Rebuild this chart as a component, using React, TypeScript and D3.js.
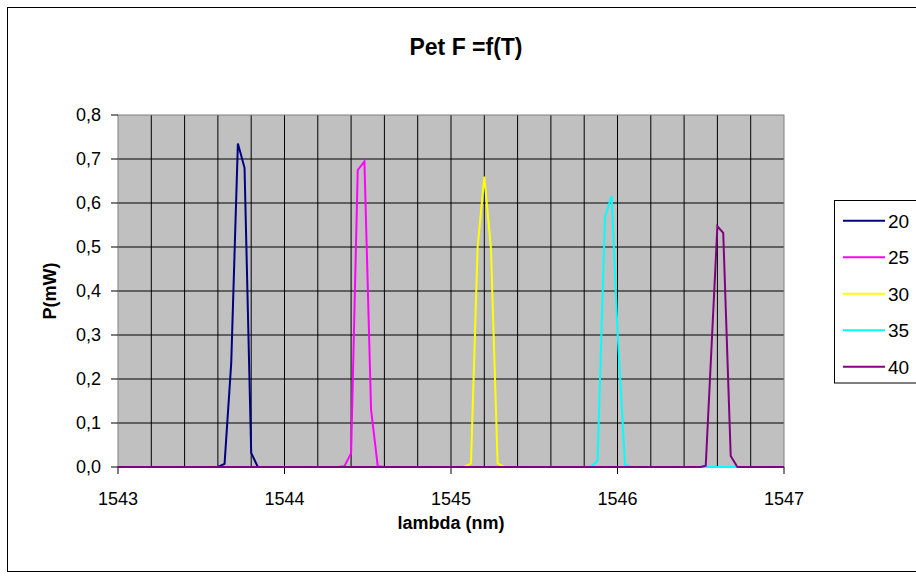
import React from "react";
import * as d3 from "d3";

const W = 916;
const H = 579;

const title = "Pet F =f(T)";
const xTitle = "lambda (nm)";
const yTitle = "P(mW)";

const xTicks = [1543, 1544, 1545, 1546, 1547];
const yTicks = [0, 0.1, 0.2, 0.3, 0.4, 0.5, 0.6, 0.7, 0.8];
const xGrid = [1543.2, 1543.4, 1543.6, 1543.8, 1544, 1544.2, 1544.4, 1544.6, 1544.8, 1545, 1545.2, 1545.4, 1545.6, 1545.8, 1546, 1546.2, 1546.4, 1546.6, 1546.8];

const seriesNames = ["20", "25", "30", "35", "40"];
const seriesColors = ["#000080", "#FF00FF", "#FFFF00", "#00FFFF", "#800080"];

const lambda20 = [1543.0, 1543.6, 1543.64, 1543.68, 1543.72, 1543.76, 1543.8, 1543.84, 1547.0];
const p20 = [0, 0, 0.007, 0.236, 0.735, 0.68, 0.032, 0, 0];

const lambda25 = [1543.0, 1544.32, 1544.36, 1544.4, 1544.44, 1544.48, 1544.52, 1544.56, 1544.6, 1547.0];
const p25 = [0, 0, 0.002, 0.031, 0.675, 0.694, 0.13, 0.002, 0, 0];

const lambda30 = [1543.0, 1545.08, 1545.12, 1545.16, 1545.2, 1545.24, 1545.28, 1545.32, 1547.0];
const p30 = [0, 0, 0.008, 0.5, 0.66, 0.497, 0.008, 0, 0];

const lambda35 = [1543.0, 1545.84, 1545.88, 1545.925, 1545.935, 1545.965, 1546.0, 1546.045, 1546.08, 1547.0];
const p35 = [0, 0, 0.014, 0.567, 0.58, 0.616, 0.31, 0.005, 0, 0];

const lambda40 = [1543.0, 1546.5, 1546.53, 1546.565, 1546.6, 1546.635, 1546.68, 1546.72, 1547.0];
const p40 = [0, 0, 0.003, 0.275, 0.547, 0.532, 0.025, 0, 0];

const seriesX = [lambda20, lambda25, lambda30, lambda35, lambda40];
const seriesY = [p20, p25, p30, p35, p40];

const plot = { left: 118, right: 784, top: 115, bottom: 467 };

export default function App() {
  const x = d3.scaleLinear().domain([1543, 1547]).range([plot.left, plot.right]);
  const y = d3.scaleLinear().domain([0, 0.8]).range([plot.bottom, plot.top]);
  const line = d3
    .line<[number, number]>()
    .x((d) => x(d[0]))
    .y((d) => y(d[1]));
  const fmt = (v: number) => v.toFixed(1).replace(".", ",");
  const font = "Arial, 'Liberation Sans', sans-serif";

  const legendTop = 200;
  const legendStep = 36.5;

  return (
    <svg
      width={W}
      height={H}
      style={{ position: "absolute", left: 0, top: 0, background: "#fff" }}
      fontFamily={font}
    >
      <rect x={0} y={0} width={W} height={H} fill="#fff" />
      <rect x={7.5} y={7.5} width={940} height={564} fill="none" stroke="#000" strokeWidth={1} />
      <text x={466} y={47} dy="0.36em" textAnchor="middle" fontSize={23} fontWeight="bold">
        {title}
      </text>

      <rect
        x={plot.left}
        y={plot.top}
        width={plot.right - plot.left}
        height={plot.bottom - plot.top}
        fill="#C0C0C0"
      />
      {xGrid.map((g) => (
        <line key={"xg" + g} x1={x(g)} x2={x(g)} y1={plot.top} y2={plot.bottom} stroke="#000" strokeWidth={1} />
      ))}
      {yTicks.slice(1, -1).map((g) => (
        <line key={"yg" + g} x1={plot.left} x2={plot.right} y1={y(g)} y2={y(g)} stroke="#000" strokeWidth={1} />
      ))}
      <rect
        x={plot.left}
        y={plot.top}
        width={plot.right - plot.left}
        height={plot.bottom - plot.top}
        fill="none"
        stroke="#808080"
        strokeWidth={1}
      />

      {yTicks.map((t) => (
        <g key={"yt" + t}>
          <line x1={plot.left - 7} x2={plot.left} y1={y(t)} y2={y(t)} stroke="#000" strokeWidth={1} />
          <text x={101} y={y(t)} dy="0.36em" textAnchor="end" fontSize={18}>
            {fmt(t)}
          </text>
        </g>
      ))}
      {xTicks.map((t) => (
        <g key={"xt" + t}>
          <line x1={x(t)} x2={x(t)} y1={plot.bottom} y2={plot.bottom + 7} stroke="#000" strokeWidth={1} />
          <text x={x(t)} y={499} dy="0.36em" textAnchor="middle" fontSize={18}>
            {t}
          </text>
        </g>
      ))}

      {seriesX.map((xs, i) => {
        const pts = xs.map((v, j) => [v, seriesY[i][j]] as [number, number]);
        return (
          <path
            key={"s" + i}
            d={line(pts) || ""}
            fill="none"
            stroke={seriesColors[i]}
            strokeWidth={2}
            strokeLinejoin="miter"
          />
        );
      })}

      <text x={451} y={523} dy="0.36em" textAnchor="middle" fontSize={18} fontWeight="bold">
        {xTitle}
      </text>
      <text
        transform={`translate(50,${(plot.top + plot.bottom) / 2}) rotate(-90)`}
        dy="0.36em"
        textAnchor="middle"
        fontSize={18}
        fontWeight="bold"
      >
        {yTitle}
      </text>

      <rect x={834.5} y={legendTop + 0.5} width={120} height={legendStep * 5} fill="#fff" stroke="#000" strokeWidth={1} />
      {seriesNames.map((n, i) => {
        const cy = legendTop + 20.7 + i * legendStep;
        return (
          <g key={"lg" + n}>
            <line x1={843} x2={885} y1={cy} y2={cy} stroke={seriesColors[i]} strokeWidth={2} />
            <text x={888} y={cy} dy="0.36em" fontSize={19}>
              {n}
            </text>
          </g>
        );
      })}
    </svg>
  );
}
